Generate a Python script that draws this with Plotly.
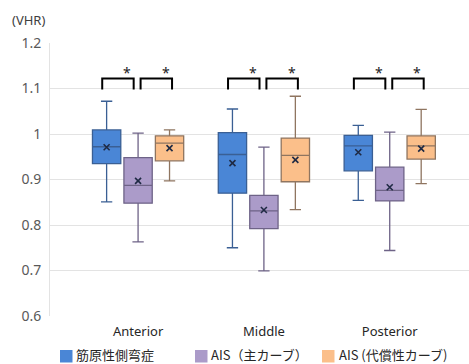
import plotly.graph_objects as go

categories = ["Anterior", "Middle", "Posterior"]
series_names = ["筋原性側弯症", "AIS（主カーブ）", "AIS (代償性カーブ)"]

# per series: values for Anterior, Middle, Posterior
lower = [[0.851, 0.750, 0.854], [0.763, 0.699, 0.744], [0.897, 0.834, 0.891]]
q1 = [[0.935, 0.870, 0.919], [0.848, 0.792, 0.853], [0.941, 0.895, 0.945]]
median = [[0.972, 0.955, 0.974], [0.887, 0.831, 0.876], [0.980, 0.953, 0.974]]
q3 = [[1.009, 1.003, 0.997], [0.948, 0.865, 0.927], [0.996, 0.991, 0.996]]
upper = [[1.072, 1.055, 1.019], [1.002, 0.971, 1.004], [1.009, 1.083, 1.054]]
mean = [[0.971, 0.936, 0.960], [0.897, 0.833, 0.883], [0.969, 0.943, 0.968]]

y_ticks = [0.6, 0.7, 0.8, 0.9, 1.0, 1.1, 1.2]
y_tick_labels = ["0.6", "0.7", "0.8", "0.9", "1", "1.1", "1.2"]

fills = ["#4a86d6", "#ab9bc9", "#fbbf8a"]
edges = ["#3a5f94", "#6e6387", "#8f7560"]
offsets = [-0.25, 0.0, 0.25]
box_w = 0.225

W, H = 469, 364
ML, MR, MT, MB = 50, 0, 43, 48
PW, PH = W - ML - MR, H - MT - MB


def px_x(px):
    return (px - ML) / PW


def px_y(py):
    return (H - MB - py) / PH


fig = go.Figure()
for s in range(3):
    xs = [i + offsets[s] for i in range(len(categories))]
    fig.add_trace(go.Box(
        x=xs, q1=q1[s], median=median[s], q3=q3[s],
        lowerfence=lower[s], upperfence=upper[s],
        width=box_w, whiskerwidth=0.4, name=series_names[s],
        fillcolor=fills[s], line=dict(color=edges[s], width=1.3),
        boxpoints=False, showlegend=False, hoverinfo="skip"))
    fig.add_trace(go.Scatter(
        x=xs, y=mean[s], mode="markers",
        marker=dict(symbol="x-thin-open", size=6, color="#1f2a44",
                    line=dict(color="#1f2a44", width=1.6)),
        showlegend=False, hoverinfo="skip"))

# significance brackets
bracket_top, bracket_bot = 1.122, 1.098
pairs = [(-0.285, -0.035), (0.02, 0.27)]
for i in range(len(categories)):
    for a, b in pairs:
        fig.add_shape(type="path",
                      path=f"M {i+a} {bracket_bot} L {i+a} {bracket_top} L {i+b} {bracket_top} L {i+b} {bracket_bot}",
                      line=dict(color="black", width=2), xref="x", yref="y")
        fig.add_annotation(x=i + b - 0.05, y=1.136, text="*", showarrow=False,
                           font=dict(size=14, color="#222", family="Noto Sans"), xref="x", yref="y")

fig.add_annotation(x=px_x(10), y=px_y(20), xref="paper", yref="paper", xanchor="left",
                   yanchor="middle", text="(VHR)", showarrow=False,
                   font=dict(size=13, color="#404040", family="Noto Sans"))

# manual legend
legend_sq_x = [60, 195, 322]
legend_txt_x = [77, 212, 340]
for s in range(3):
    fig.add_shape(type="rect", xref="paper", yref="paper",
                  x0=px_x(legend_sq_x[s]), x1=px_x(legend_sq_x[s] + 12.5),
                  y0=px_y(362.5), y1=px_y(350),
                  fillcolor=fills[s], line=dict(width=0))
    fig.add_annotation(x=px_x(legend_txt_x[s] - 2), y=px_y(354.5), xref="paper", yref="paper",
                       xanchor="left", yanchor="middle", text=series_names[s], showarrow=False,
                       borderpad=0,
                       font=dict(size=13, color="#262626", family="Noto Sans CJK JP"))

fig.update_layout(
    width=W, height=H,
    margin=dict(l=ML, r=MR, t=MT, b=MB, autoexpand=False),
    plot_bgcolor="white", paper_bgcolor="white", showlegend=False,
    xaxis=dict(range=[-0.7, 2.63], tickmode="array", tickvals=[0, 1, 2], ticktext=categories,
               showgrid=False, zeroline=False, showline=False, ticks="", ticklabelstandoff=6,
               tickfont=dict(size=13, color="#262626", family="Noto Sans")),
    yaxis=dict(range=[0.6, 1.2], tickmode="array", tickvals=y_ticks, ticktext=y_tick_labels,
               showgrid=True, gridcolor="#e3e3e3", gridwidth=1, zeroline=False,
               showline=True, linecolor="#e3e3e3", ticks="", ticklabelstandoff=5,
               tickfont=dict(size=14, color="#595959", family="Noto Sans")),
)

fig.write_html("out.html", config={"displayModeBar": False},
               post_script="document.body.style.margin='0';document.body.style.overflow='hidden';")
